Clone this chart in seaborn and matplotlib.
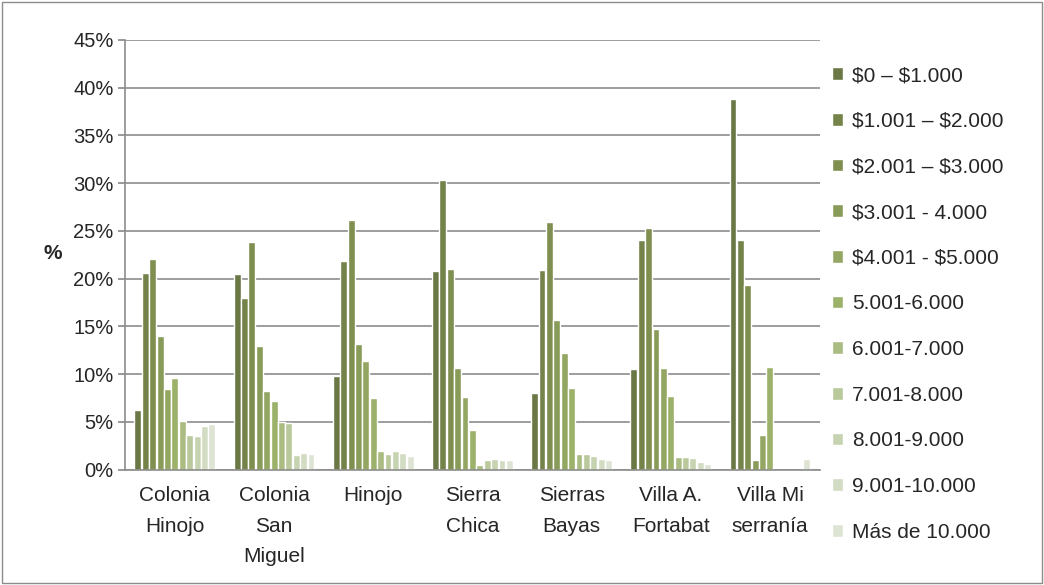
import seaborn as sns
import matplotlib.pyplot as plt
import pandas as pd
from matplotlib.ticker import PercentFormatter

sns.set_theme(style="white")
plt.rcParams['font.family'] = ['Liberation Sans', 'DejaVu Sans']

# data
localidades = ["Colonia\nHinojo", "Colonia\nSan\nMiguel", "Hinojo", "Sierra\nChica",
               "Sierras\nBayas", "Villa A.\nFortabat", "Villa Mi\nserranía"]
rangos = [r"\$0 – \$1.000", r"\$1.001 – \$2.000", r"\$2.001 – \$3.000", r"\$3.001 - 4.000",
          r"\$4.001 - \$5.000", "5.001-6.000", "6.001-7.000", "7.001-8.000",
          "8.001-9.000", "9.001-10.000", "Más de 10.000"]

colonia_hinojo = [6.3, 20.6, 22.1, 14.0, 8.4, 9.6, 5.1, 3.6, 3.5, 4.6, 4.8]
colonia_san_miguel = [20.5, 18.0, 23.8, 12.9, 8.2, 7.2, 5.0, 4.9, 1.5, 1.8, 1.7]
hinojo = [9.8, 21.8, 26.1, 13.2, 11.4, 7.5, 2.0, 1.6, 2.0, 1.8, 1.4]
sierra_chica = [20.8, 30.3, 21.0, 10.7, 7.6, 4.2, 0.5, 1.0, 1.1, 1.0, 1.0]
sierras_bayas = [8.0, 20.9, 25.9, 15.7, 12.2, 8.6, 1.6, 1.7, 1.4, 1.1, 1.0]
villa_fortabat = [10.5, 24.0, 25.3, 14.7, 10.6, 7.7, 1.3, 1.3, 1.2, 0.8, 0.6]
villa_serrania = [38.8, 24.0, 19.3, 1.0, 3.6, 10.8, 0.0, 0.0, 0.0, 0.0, 1.1]

series = [colonia_hinojo, colonia_san_miguel, hinojo, sierra_chica,
          sierras_bayas, villa_fortabat, villa_serrania]

colores = ["#6e803c", "#798c41", "#839946", "#8ea64e", "#98b356", "#a1bd5e",
           "#adc678", "#bcd193", "#c8d9aa", "#d3e0bf", "#dee6d2"]

rows = []
for loc, vals in zip(localidades, series):
    for r, v in zip(rangos, vals):
        rows.append({"loc": loc, "rango": r, "pct": v})
df = pd.DataFrame(rows)

fig = plt.figure(figsize=(10.44, 5.85), dpi=100)
ax = fig.add_axes([0.12, 0.197, 0.665, 0.735])

sns.barplot(data=df, x="loc", y="pct", hue="rango", hue_order=rangos,
            palette=colores, width=0.82, gap=0.06, ax=ax, legend=True)

ax.set_ylim(0, 45)
ax.set_yticks(range(0, 46, 5))
ax.yaxis.set_major_formatter(PercentFormatter(decimals=0))
ax.yaxis.grid(True, color="#8c8c8c", linewidth=1.2)
ax.set_axisbelow(True)
for s in ["top", "right"]:
    ax.spines[s].set_visible(False)
for s in ["left", "bottom"]:
    ax.spines[s].set_color("#8c8c8c")
    ax.spines[s].set_linewidth(1.2)
ax.tick_params(axis="y", labelsize=14.5, length=5, color="#8c8c8c", direction="out", left=True)
ax.tick_params(axis="x", labelsize=15, length=0, pad=12)
for lab in ax.get_xticklabels():
    lab.set_verticalalignment("top")
    lab.set_linespacing(1.75)
ax.set_xlabel("")
ax.set_ylabel("%", fontsize=15, fontweight="bold", rotation=0)
ax.yaxis.set_label_coords(-0.105, 0.48)

leg = ax.legend(loc="upper left", bbox_to_anchor=(1.0, 0.968), frameon=False,
                fontsize=15, handlelength=0.55, handleheight=0.55,
                handletextpad=0.4, labelspacing=1.28, borderaxespad=0.2)

fig.patches.append(plt.Rectangle((0.002, 0.004), 0.996, 0.992, transform=fig.transFigure,
                                 fill=False, edgecolor="#8c8c8c", linewidth=1))

plt.savefig("out.png", dpi=100)
